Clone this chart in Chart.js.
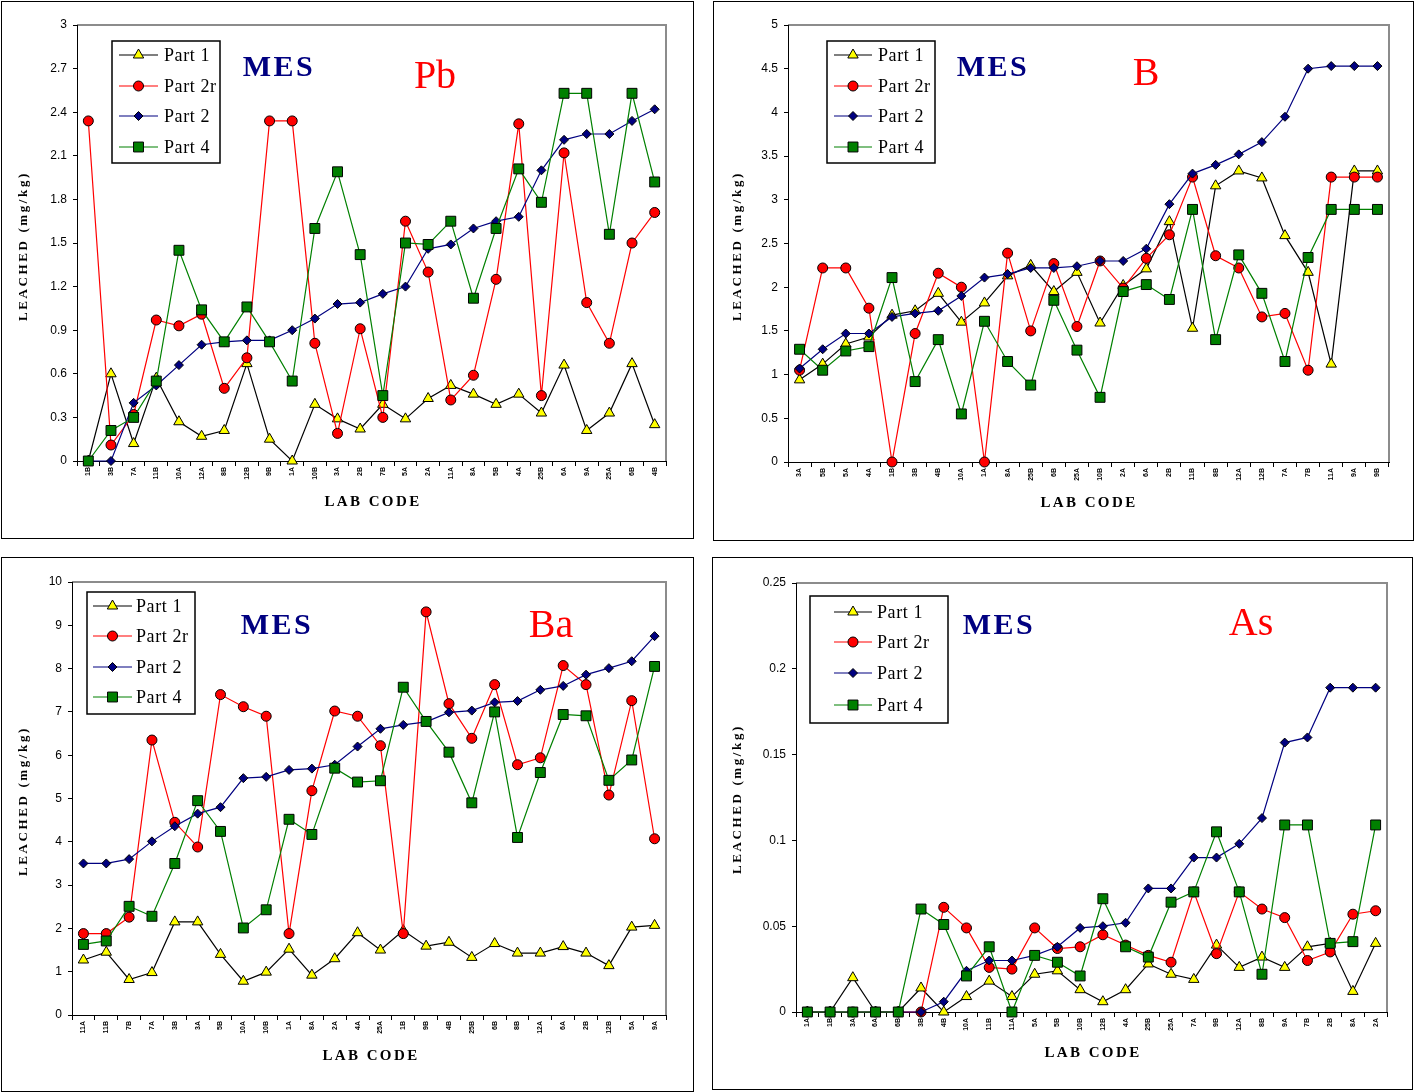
<!DOCTYPE html>
<html>
<head>
<meta charset="utf-8">
<script src="https://cdn.jsdelivr.net/npm/chart.js@4.4.0/dist/chart.umd.min.js"></script>
<style>
body { margin: 0; background: #fff; width: 1414px; height: 1092px; position: relative; overflow: hidden; }
.panel { position: absolute; border: 1px solid #000; box-sizing: border-box; }
.panel canvas { position: absolute; left: 0; top: 0; }
</style>
</head>
<body>
<div class="panel" style="left:1px;top:1px;width:693px;height:538px"><canvas id="cPb" width="691" height="536"></canvas></div>
<div class="panel" style="left:713px;top:1px;width:701px;height:540px"><canvas id="cB" width="699" height="538"></canvas></div>
<div class="panel" style="left:1px;top:557px;width:693px;height:535px"><canvas id="cBa" width="691" height="533"></canvas></div>
<div class="panel" style="left:712px;top:557px;width:701px;height:533px"><canvas id="cAs" width="699" height="531"></canvas></div>
<script>
// ---- Pb ----
const pbLabels = ["1B","3B","7A","11B","10A","12A","8B","12B","9B","1A","10B","3A","2B","7B","5A","2A","11A","8A","5B","4A","25B","6A","9A","25A","6B","4B"];
const pbPart1  = [0,0.60,0.12,0.57,0.27,0.17,0.21,0.67,0.15,0,0.39,0.29,0.22,0.39,0.29,0.43,0.52,0.46,0.39,0.46,0.33,0.66,0.21,0.33,0.67,0.25];
const pbPart2r = [2.34,0.11,0.32,0.97,0.93,1.01,0.50,0.71,2.34,2.34,0.81,0.19,0.91,0.30,1.65,1.30,0.42,0.59,1.25,2.32,0.45,2.12,1.09,0.81,1.50,1.71];
const pbPart2  = [0,0,0.40,0.52,0.66,0.80,0.82,0.83,0.83,0.90,0.98,1.08,1.09,1.15,1.20,1.46,1.49,1.60,1.65,1.68,2.00,2.21,2.25,2.25,2.34,2.42];
const pbPart4  = [0,0.21,0.30,0.55,1.45,1.04,0.82,1.06,0.82,0.55,1.60,1.99,1.42,0.45,1.50,1.49,1.65,1.12,1.60,2.01,1.78,2.53,2.53,1.56,2.53,1.92];
const pbTicks  = [0,0.3,0.6,0.9,1.2,1.5,1.8,2.1,2.4,2.7,3];

// ---- B ----
const bLabels = ["3A","5B","5A","4A","1B","3B","4B","10A","1A","8A","25B","6B","25A","10B","2A","6A","2B","11B","8B","12A","12B","7A","7B","11A","9A","9B"];
const bPart1  = [0.94,1.12,1.35,1.43,1.68,1.73,1.93,1.60,1.82,2.13,2.25,1.95,2.17,1.59,2.02,2.21,2.75,1.53,3.16,3.33,3.25,2.59,2.17,1.12,3.33,3.33];
const bPart2r = [1.05,2.22,2.22,1.76,0,1.47,2.16,2.00,0,2.39,1.50,2.27,1.55,2.30,1.99,2.33,2.60,3.26,2.36,2.22,1.66,1.70,1.05,3.26,3.26,3.26];
const bPart2  = [1.07,1.29,1.47,1.47,1.66,1.70,1.73,1.90,2.11,2.15,2.22,2.22,2.24,2.30,2.30,2.44,2.95,3.30,3.40,3.52,3.66,3.95,4.50,4.53,4.53,4.53];
const bPart4  = [1.29,1.05,1.27,1.32,2.11,0.92,1.40,0.55,1.61,1.15,0.88,1.85,1.28,0.74,1.95,2.03,1.86,2.89,1.40,2.37,1.93,1.15,2.34,2.89,2.89,2.89];
const bTicks  = [0,0.5,1,1.5,2,2.5,3,3.5,4,4.5,5];

// ---- Ba ----
const baLabels = ["11A","11B","7B","7A","3B","3A","5B","10A","10B","1A","8A","2A","4A","25A","1B","9B","4B","25B","6B","8B","12A","6A","2B","12B","5A","9A"];
const baPart1  = [1.27,1.45,0.82,0.98,2.15,2.15,1.40,0.78,0.99,1.52,0.92,1.30,1.90,1.50,1.95,1.59,1.68,1.33,1.65,1.43,1.43,1.58,1.43,1.14,2.03,2.07];
const baPart2r = [1.88,1.88,2.26,6.35,4.45,3.88,7.40,7.12,6.90,1.88,5.18,7.02,6.90,6.22,1.88,9.31,7.19,6.39,7.63,5.78,5.94,8.07,7.63,5.08,7.26,4.07];
const baPart2  = [3.50,3.50,3.60,4.01,4.36,4.65,4.80,5.47,5.50,5.66,5.69,5.78,6.20,6.61,6.70,6.77,6.99,7.03,7.22,7.25,7.51,7.60,7.86,8.01,8.17,8.75];
const baPart4  = [1.63,1.71,2.51,2.28,3.50,4.95,4.24,2.01,2.43,4.52,4.17,5.70,5.38,5.41,7.57,6.78,6.07,4.90,7.00,4.10,5.60,6.94,6.91,5.42,5.89,8.05];
const baTicks  = [0,1,2,3,4,5,6,7,8,9,10];

// ---- As ----
const asLabels = ["1A","1B","3A","6A","6B","3B","4B","10A","11B","11A","5A","5B","10B","12B","4A","25B","25A","7A","9B","12A","8B","9A","7B","2B","8A","2A"];
const asPart1  = [0,0,0.020,0,0,0.014,0,0.009,0.018,0.009,0.022,0.024,0.013,0.006,0.013,0.028,0.022,0.019,0.039,0.026,0.032,0.026,0.038,0.040,0.012,0.040];
const asPart2r = [0,0,0,0,0,0,0.061,0.049,0.026,0.025,0.049,0.037,0.038,0.045,0.039,0.033,0.029,0.070,0.034,0.070,0.060,0.055,0.030,0.035,0.057,0.059];
const asPart2  = [0,0,0,0,0,0,0.006,0.024,0.030,0.030,0.033,0.038,0.049,0.050,0.052,0.072,0.072,0.090,0.090,0.098,0.113,0.157,0.160,0.189,0.189,0.189];
const asPart4  = [0,0,0,0,0,0.060,0.051,0.021,0.038,0,0.033,0.029,0.021,0.066,0.038,0.032,0.064,0.070,0.105,0.070,0.022,0.109,0.109,0.040,0.041,0.109];
const asTicks  = [0,0.05,0.1,0.15,0.2,0.25];

const seriesNames = ["Part 1", "Part 2r", "Part 2", "Part 4"];

// series look (Excel style markers)
const seriesStyle = [
    { line: "#000000", style: "triangle", fill: "#FFFF00", radius: 6,   order: 4 },
    { line: "#FF0000", style: "circle",   fill: "#FF0000", radius: 5,   order: 3 },
    { line: "#000080", style: "rectRot",  fill: "#000080", radius: 4.5, order: 2 },
    { line: "#008000", style: "rect",     fill: "#008000", radius: 7,   order: 1 }
];

const SERIF = "'Liberation Serif', 'Times New Roman', serif";
const SANS = "'Liberation Sans', Arial, sans-serif";

// legend, titles, element name, plot frame
const decorPlugin = {
    id: "decor",
    beforeDraw(chart) {
        const ctx = chart.ctx, a = chart.chartArea;
        ctx.save();
        ctx.strokeStyle = "#8c8c8c";
        ctx.lineWidth = 2;
        ctx.beginPath();
        ctx.moveTo(a.left, a.top);
        ctx.lineTo(a.right, a.top);
        ctx.lineTo(a.right, a.bottom);
        ctx.stroke();
        ctx.restore();
    },
    afterDraw(chart) {
        const d = chart.options.plugins.decor;
        const ctx = chart.ctx;
        const ox = d.origin[0], oy = d.origin[1];
        ctx.save();

        // legend box
        const lg = d.legend;
        ctx.strokeStyle = "#000";
        ctx.lineWidth = 1.5;
        ctx.strokeRect(lg.box[0] - ox, lg.box[1] - oy, lg.box[2] - lg.box[0], lg.box[3] - lg.box[1]);
        seriesNames.forEach((name, i) => {
            const s = seriesStyle[i];
            const y = lg.rows[i] - oy;
            ctx.strokeStyle = s.line;
            ctx.lineWidth = 1.2;
            ctx.beginPath();
            ctx.moveTo(lg.line[0] - ox, y);
            ctx.lineTo(lg.line[1] - ox, y);
            ctx.stroke();
            ctx.fillStyle = s.fill;
            ctx.strokeStyle = "#000";
            ctx.lineWidth = 1;
            Chart.helpers.drawPoint(ctx, { pointStyle: s.style, radius: s.radius, rotation: 0, borderWidth: 1 },
                (lg.line[0] + lg.line[1]) / 2 - ox, y);
            ctx.fillStyle = "#000";
            ctx.font = "18px " + SERIF;
            ctx.letterSpacing = "0.6px";
            ctx.textAlign = "left";
            ctx.textBaseline = "middle";
            ctx.fillText(name, lg.textX - ox, y + 1);
        });

        // MES
        ctx.fillStyle = "#000080";
        ctx.font = "bold 30px " + SERIF;
        ctx.textAlign = "center";
        ctx.textBaseline = "middle";
        ctx.letterSpacing = "2.5px";
        ctx.fillText("MES", d.mes[0] - ox, d.mes[1] - oy);

        // element
        ctx.letterSpacing = "0px";
        ctx.fillStyle = "#FF0000";
        ctx.font = "40px " + SERIF;
        ctx.fillText(d.element, d.elemPos[0] - ox, d.elemPos[1] - oy);

        // axis titles
        ctx.fillStyle = "#000";
        ctx.font = "bold 15px " + SERIF;
        ctx.letterSpacing = "2.4px";
        ctx.fillText("LAB CODE", d.xTitle[0] - ox, d.xTitle[1] - oy);

        ctx.font = "bold 13px " + SERIF;
        ctx.letterSpacing = "2.6px";
        ctx.translate(d.yTitle[0] - ox, d.yTitle[1] - oy);
        ctx.rotate(-Math.PI / 2);
        ctx.fillText("LEACHED (mg/kg)", 0, 0);
        ctx.restore();
    }
};

function makeChart(id, origin, labels, values, yTicks, area, decor) {
    const canvas = document.getElementById(id);
    const W = canvas.width, H = canvas.height;
    const L = area[0] - origin[0], T = area[1] - origin[1];
    const R = area[2] - origin[0], B = area[3] - origin[1];
    const Y_W = 50, X_H = 40;   // y labels are clipped to the scale box, keep it wide

    const datasets = values.map((data, i) => {
        const s = seriesStyle[i];
        return {
            label: seriesNames[i],
            data: data,
            borderColor: s.line,
            borderWidth: 1.2,
            pointStyle: s.style,
            pointRadius: s.radius,
            pointBackgroundColor: s.fill,
            pointBorderColor: "#000",
            pointBorderWidth: 1,
            tension: 0,
            clip: false,
            order: s.order
        };
    });

    decor.origin = origin;

    return new Chart(canvas, {
        type: "line",
        data: { labels: labels, datasets: datasets },
        options: {
            responsive: false,
            animation: false,
            layout: { padding: { left: L - Y_W, top: T, right: W - R, bottom: H - B - X_H } },
            plugins: {
                legend: { display: false },
                tooltip: { enabled: false },
                decor: decor
            },
            scales: {
                x: {
                    type: "category",
                    offset: true,
                    afterFit: s => { s.height = X_H; },
                    grid: { offset: true, drawOnChartArea: false, color: "#000", tickLength: 5 },
                    border: { color: "#000", width: 1 },
                    ticks: {
                        autoSkip: false, minRotation: 90, maxRotation: 90, padding: 1, color: "#000",
                        font: { family: SANS, size: 7, weight: "bold" }
                    }
                },
                y: {
                    min: yTicks[0],
                    max: yTicks[yTicks.length - 1],
                    afterFit: s => { s.width = Y_W; },
                    afterBuildTicks: s => { s.ticks = yTicks.map(v => ({ value: v })); },
                    grid: { drawOnChartArea: false, color: "#000", tickLength: 4 },
                    border: { color: "#000", width: 1 },
                    ticks: {
                        padding: 6, color: "#000",
                        font: { family: SANS, size: 12 },
                        callback: v => String(v)
                    }
                }
            }
        },
        plugins: [decorPlugin]
    });
}

makeChart("cPb", [2, 2], pbLabels, [pbPart1, pbPart2r, pbPart2, pbPart4], pbTicks,
    [77, 25, 666, 461],
    { legend: { box: [112, 41, 220, 163], rows: [55, 86, 116, 147], line: [119, 158], textX: 164 },
      mes: [279, 68], element: "Pb", elemPos: [435, 77], yTitle: [24, 246], xTitle: [373, 502] });

makeChart("cB", [714, 2], bLabels, [bPart1, bPart2r, bPart2, bPart4], bTicks,
    [788, 25, 1389, 462],
    { legend: { box: [827, 41, 935, 163], rows: [55, 86, 116, 147], line: [834, 872], textX: 878 },
      mes: [993, 68], element: "B", elemPos: [1146, 74], yTitle: [738, 246], xTitle: [1089, 503] });

makeChart("cBa", [2, 558], baLabels, [baPart1, baPart2r, baPart2, baPart4], baTicks,
    [72, 582, 666, 1015],
    { legend: { box: [87, 592, 195, 714], rows: [606, 636, 667, 697], line: [93, 132], textX: 136 },
      mes: [277, 626], element: "Ba", elemPos: [551, 626], yTitle: [24, 801], xTitle: [371, 1056] });

makeChart("cAs", [713, 558], asLabels, [asPart1, asPart2r, asPart2, asPart4], asTicks,
    [796, 583, 1387, 1012],
    { legend: { box: [810, 596, 948, 723], rows: [612, 642, 673, 705], line: [834, 872], textX: 877 },
      mes: [999, 626], element: "As", elemPos: [1251, 624], yTitle: [738, 799], xTitle: [1093, 1053] });
</script>
</body>
</html>
